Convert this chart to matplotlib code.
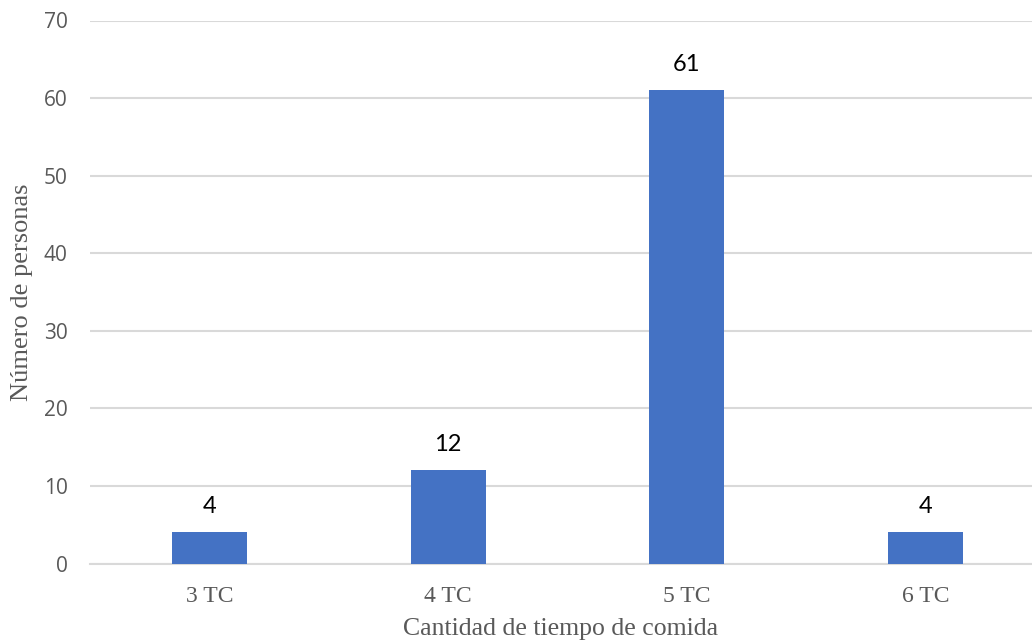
import matplotlib.pyplot as plt

categorias = ["3 TC", "4 TC", "5 TC", "6 TC"]
personas = [4, 12, 61, 4]
yticks = [0, 10, 20, 30, 40, 50, 60, 70]

fig = plt.figure(figsize=(10.32, 6.43), dpi=100)
ax = fig.add_axes([90 / 1032, (643 - 563.5) / 643, 1 - 90 / 1032, (563.5 - 20.5) / 643])

x = range(len(categorias))
bars = ax.bar(x, personas, width=0.314, color="#4472C4", zorder=3)

# etiquetas de datos
for b, v in zip(bars, personas):
    ax.annotate(str(v), (b.get_x() + b.get_width() / 2, v), xytext=(0, 11),
                textcoords="offset points", ha="center", va="bottom",
                fontsize=17, family="Lato", color="black")

ax.set_xlim(-0.5, 3.446)
ax.set_ylim(0, 70)
ax.set_yticks(yticks)
ax.set_yticklabels([str(t) for t in yticks], family="Open Sans", fontsize=15, color="#595959")
ax.set_xticks(list(x))
ax.set_xticklabels(categorias, family="Liberation Serif", fontsize=17, color="#595959")
ax.tick_params(axis="y", length=0, pad=16)
ax.tick_params(axis="x", length=0, pad=16)

ax.grid(axis="y", color="#d9d9d9", linewidth=1.5, zorder=0)
for s in ["top", "right", "left"]:
    ax.spines[s].set_visible(False)
ax.spines["bottom"].set_color("#d9d9d9")
ax.spines["bottom"].set_linewidth(1.5)

ax.set_ylabel("Número de personas", family="Liberation Serif", fontsize=19, color="#595959", labelpad=8)
ax.set_xlabel("Cantidad de tiempo de comida", family="Liberation Serif", fontsize=18.5, color="#595959", labelpad=8)

fig.savefig("out.png", dpi=100)
